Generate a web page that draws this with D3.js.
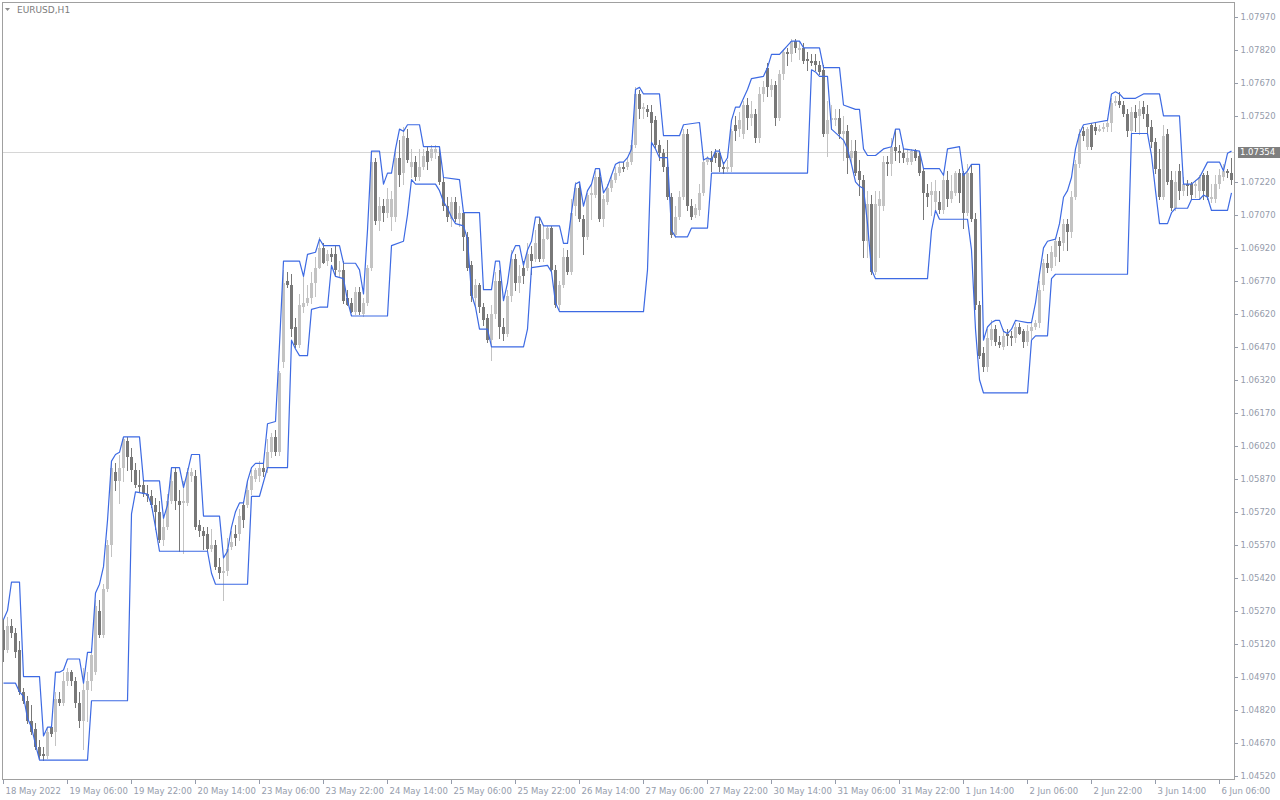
<!DOCTYPE html>
<html><head><meta charset="utf-8">
<script src="https://cdn.jsdelivr.net/npm/d3@7/dist/d3.min.js"></script>
<style>
html,body{margin:0;padding:0;background:#fff;}
svg{display:block;}
text{font-family:"DejaVu Sans",Verdana,sans-serif;}
</style></head><body>
<svg id="chart" width="1280" height="800"></svg>
<script>
const chartTitle = "EURUSD,H1";
const currentPrice = 1.07354;

const open = [1.0518,1.0509,1.0520,1.0517,1.0509,1.0490,1.0486,1.0477,1.0473,1.0465,
1.0462,1.0461,1.0474,1.0472,1.0487,1.0485,1.0495,1.0499,1.0495,1.0485,
1.0477,1.0491,1.0495,1.0499,1.0527,1.0516,1.0537,1.0557,1.0590,1.0586,
1.0592,1.0604,1.0597,1.0591,1.0584,1.0584,1.0580,1.0579,1.0575,1.0572,
1.0559,1.0565,1.0577,1.0590,1.0577,1.0576,1.0576,1.0588,1.0588,1.0566,
1.0563,1.0562,1.0555,1.0557,1.0547,1.0544,1.0545,1.0556,1.0562,1.0562,
1.0575,1.0575,1.0582,1.0587,1.0588,1.0592,1.0592,1.0599,1.0606,1.0599,
1.0640,1.0677,1.0675,1.0656,1.0648,1.0665,1.0667,1.0669,1.0676,1.0683,
1.0692,1.0686,1.0689,1.0689,1.0681,1.0682,1.0669,1.0667,1.0663,1.0672,
1.0662,1.0667,1.0683,1.0731,1.0704,1.0711,1.0708,1.0706,1.0706,1.0733,
1.0726,1.0742,1.0729,1.0731,1.0724,1.0729,1.0736,1.0733,1.0735,1.0734,
1.0722,1.0711,1.0705,1.0713,1.0705,1.0708,1.0697,1.0684,1.0669,1.0675,
1.0665,1.0660,1.0650,1.0662,1.0677,1.0656,1.0653,1.0670,1.0687,1.0676,
1.0683,1.0683,1.0689,1.0687,1.0703,1.0687,1.0696,1.0701,1.0682,1.0666,
1.0675,1.0688,1.0681,1.0711,1.0719,1.0705,1.0697,1.0716,1.0716,1.0724,
1.0705,1.0713,1.0719,1.0723,1.0726,1.0729,1.0729,1.0731,1.0739,1.0762,
1.0755,1.0755,1.0754,1.0750,1.0739,1.0735,1.0729,1.0715,1.0698,1.0706,
1.0715,1.0744,1.0711,1.0707,1.0709,1.0717,1.0731,1.0733,1.0735,1.0735,
1.0729,1.0728,1.0729,1.0748,1.0746,1.0744,1.0757,1.0751,1.0753,1.0742,
1.0762,1.0774,1.0764,1.0766,1.0751,1.0771,1.0781,1.0780,1.0786,1.0782,
1.0783,1.0778,1.0777,1.0777,1.0775,1.0773,1.0744,1.0750,1.0750,1.0751,
1.0744,1.0745,1.0733,1.0736,1.0727,1.0723,1.0695,1.0712,1.0681,1.0711,
1.0711,1.0731,1.0730,1.0738,1.0736,1.0735,1.0731,1.0731,1.0736,1.0734,
1.0727,1.0717,1.0716,1.0713,1.0713,1.0709,1.0723,1.0714,1.0717,1.0726,
1.0726,1.0708,1.0726,1.0705,1.0666,1.0644,1.0638,1.0650,1.0655,1.0649,
1.0647,1.0653,1.0652,1.0651,1.0656,1.0654,1.0649,1.0654,1.0656,1.0658,
1.0675,1.0685,1.0683,1.0688,1.0695,1.0694,1.0703,1.0699,1.0715,1.0730,
1.0745,1.0738,1.0748,1.0747,1.0745,1.0746,1.0747,1.0749,1.0758,1.0759,
1.0757,1.0753,1.0745,1.0754,1.0752,1.0756,1.0753,1.0747,1.0740,1.0728,
1.0715,1.0744,1.0723,1.0710,1.0727,1.0718,1.0721,1.0721,1.0720,1.0718,
1.0725,1.0725,1.0714,1.0714,1.0721,1.0724,1.0727,1.0726];

const high = [1.0523,1.0524,1.0523,1.0519,1.0513,1.0492,1.0488,1.0484,1.0476,1.0468,
1.0465,1.0474,1.0475,1.0490,1.0490,1.0499,1.0501,1.0500,1.0497,1.0490,
1.0501,1.0499,1.0510,1.0532,1.0532,1.0539,1.0559,1.0595,1.0594,1.0598,
1.0606,1.0606,1.0601,1.0594,1.0591,1.0587,1.0584,1.0582,1.0578,1.0577,
1.0570,1.0580,1.0591,1.0592,1.0582,1.0586,1.0592,1.0592,1.0591,1.0568,
1.0565,1.0565,1.0564,1.0559,1.0551,1.0551,1.0560,1.0563,1.0566,1.0573,
1.0577,1.0586,1.0591,1.0592,1.0595,1.0594,1.0605,1.0608,1.0609,1.0636,
1.0682,1.0681,1.0680,1.0660,1.0671,1.0679,1.0675,1.0681,1.0688,1.0697,
1.0694,1.0691,1.0692,1.0693,1.0686,1.0686,1.0673,1.0669,1.0674,1.0674,
1.0669,1.0684,1.0735,1.0733,1.0715,1.0714,1.0719,1.0718,1.0737,1.0741,
1.0747,1.0746,1.0737,1.0734,1.0737,1.0737,1.0738,1.0739,1.0739,1.0737,
1.0724,1.0715,1.0715,1.0715,1.0711,1.0709,1.0699,1.0686,1.0678,1.0676,
1.0667,1.0662,1.0666,1.0681,1.0682,1.0660,1.0673,1.0691,1.0689,1.0684,
1.0686,1.0694,1.0693,1.0700,1.0706,1.0702,1.0702,1.0702,1.0684,1.0677,
1.0692,1.0691,1.0714,1.0722,1.0721,1.0707,1.0717,1.0721,1.0727,1.0728,
1.0716,1.0721,1.0725,1.0729,1.0731,1.0731,1.0733,1.0741,1.0765,1.0764,
1.0758,1.0757,1.0757,1.0752,1.0741,1.0737,1.0741,1.0717,1.0711,1.0718,
1.0746,1.0746,1.0714,1.0712,1.0721,1.0734,1.0734,1.0736,1.0737,1.0737,
1.0731,1.0732,1.0746,1.0752,1.0754,1.0759,1.0760,1.0759,1.0755,1.0765,
1.0768,1.0776,1.0769,1.0768,1.0773,1.0782,1.0783,1.0787,1.0787,1.0786,
1.0785,1.0781,1.0780,1.0780,1.0777,1.0775,1.0759,1.0757,1.0755,1.0755,
1.0752,1.0748,1.0741,1.0741,1.0732,1.0725,1.0718,1.0716,1.0718,1.0718,
1.0734,1.0734,1.0742,1.0746,1.0739,1.0737,1.0737,1.0737,1.0737,1.0736,
1.0728,1.0721,1.0722,1.0723,1.0718,1.0725,1.0727,1.0725,1.0727,1.0728,
1.0727,1.0730,1.0730,1.0708,1.0668,1.0647,1.0655,1.0659,1.0657,1.0652,
1.0655,1.0655,1.0654,1.0658,1.0658,1.0655,1.0657,1.0658,1.0659,1.0677,
1.0687,1.0689,1.0693,1.0697,1.0697,1.0705,1.0705,1.0718,1.0732,1.0746,
1.0747,1.0747,1.0749,1.0749,1.0748,1.0749,1.0751,1.0760,1.0761,1.0763,
1.0759,1.0755,1.0756,1.0757,1.0759,1.0759,1.0757,1.0750,1.0742,1.0737,
1.0748,1.0746,1.0727,1.0727,1.0730,1.0724,1.0723,1.0722,1.0723,1.0725,
1.0726,1.0727,1.0721,1.0725,1.0728,1.0730,1.0728,1.0733];

const low = [1.0504,1.0508,1.0515,1.0506,1.0489,1.0485,1.0476,1.0471,1.0464,1.0460,
1.0459,1.0460,1.0470,1.0466,1.0484,1.0484,1.0493,1.0493,1.0483,1.0474,
1.0464,1.0477,1.0491,1.0498,1.0515,1.0515,1.0536,1.0552,1.0582,1.0576,
1.0586,1.0591,1.0586,1.0583,1.0581,1.0579,1.0577,1.0574,1.0564,1.0558,
1.0557,1.0564,1.0576,1.0573,1.0554,1.0553,1.0575,1.0586,1.0564,1.0561,
1.0555,1.0554,1.0554,1.0546,1.0542,1.0532,1.0543,1.0555,1.0557,1.0559,
1.0565,1.0574,1.0580,1.0586,1.0586,1.0588,1.0590,1.0597,1.0598,1.0598,
1.0638,1.0674,1.0652,1.0647,1.0647,1.0663,1.0666,1.0667,1.0670,1.0683,
1.0685,1.0684,1.0686,1.0679,1.0679,1.0667,1.0666,1.0663,1.0662,1.0662,
1.0661,1.0666,1.0682,1.0703,1.0700,1.0704,1.0706,1.0700,1.0704,1.0720,
1.0721,1.0731,1.0724,1.0723,1.0723,1.0728,1.0728,1.0732,1.0733,1.0721,
1.0709,1.0704,1.0702,1.0704,1.0702,1.0691,1.0682,1.0668,1.0666,1.0663,
1.0657,1.0649,1.0641,1.0660,1.0651,1.0650,1.0652,1.0668,1.0673,1.0672,
1.0676,1.0682,1.0680,1.0686,1.0686,1.0686,1.0696,1.0681,1.0665,1.0664,
1.0674,1.0680,1.0680,1.0707,1.0704,1.0689,1.0696,1.0705,1.0715,1.0704,
1.0702,1.0712,1.0718,1.0722,1.0725,1.0727,1.0728,1.0730,1.0738,1.0751,
1.0751,1.0752,1.0739,1.0738,1.0732,1.0727,1.0714,1.0697,1.0697,1.0705,
1.0714,1.0709,1.0705,1.0706,1.0707,1.0716,1.0730,1.0727,1.0731,1.0727,
1.0726,1.0727,1.0727,1.0741,1.0743,1.0742,1.0746,1.0748,1.0740,1.0740,
1.0759,1.0761,1.0761,1.0748,1.0750,1.0769,1.0775,1.0777,1.0781,1.0778,
1.0776,1.0773,1.0775,1.0773,1.0771,1.0743,1.0734,1.0746,1.0748,1.0742,
1.0732,1.0726,1.0731,1.0725,1.0716,1.0688,1.0688,1.0680,1.0680,1.0688,
1.0709,1.0725,1.0725,1.0732,1.0731,1.0731,1.0730,1.0730,1.0732,1.0725,
1.0705,1.0711,1.0707,1.0709,1.0708,1.0708,1.0711,1.0713,1.0716,1.0713,
1.0701,1.0707,1.0704,1.0664,1.0642,1.0636,1.0636,1.0648,1.0648,1.0647,
1.0646,1.0648,1.0648,1.0649,1.0653,1.0647,1.0648,1.0651,1.0655,1.0656,
1.0673,1.0681,1.0682,1.0684,1.0686,1.0691,1.0691,1.0697,1.0714,1.0729,
1.0741,1.0737,1.0737,1.0744,1.0745,1.0745,1.0745,1.0745,1.0757,1.0756,
1.0752,1.0743,1.0744,1.0745,1.0744,1.0751,1.0744,1.0738,1.0726,1.0714,
1.0714,1.0721,1.0709,1.0709,1.0714,1.0716,1.0716,1.0714,1.0715,1.0714,
1.0714,1.0714,1.0713,1.0713,1.0719,1.0723,1.0724,1.0721];

const close = [1.0509,1.0520,1.0517,1.0508,1.0490,1.0486,1.0477,1.0472,1.0465,1.0461,
1.0461,1.0472,1.0471,1.0487,1.0485,1.0495,1.0499,1.0495,1.0485,1.0477,
1.0491,1.0495,1.0507,1.0529,1.0516,1.0537,1.0557,1.0592,1.0586,1.0592,
1.0605,1.0597,1.0591,1.0584,1.0583,1.0580,1.0579,1.0575,1.0572,1.0559,
1.0565,1.0577,1.0586,1.0577,1.0575,1.0577,1.0590,1.0590,1.0565,1.0563,
1.0561,1.0555,1.0557,1.0547,1.0544,1.0545,1.0555,1.0558,1.0560,1.0570,
1.0568,1.0582,1.0588,1.0591,1.0592,1.0590,1.0599,1.0606,1.0599,1.0635,
1.0676,1.0675,1.0655,1.0648,1.0666,1.0667,1.0669,1.0676,1.0683,1.0692,
1.0685,1.0689,1.0688,1.0682,1.0682,1.0668,1.0666,1.0663,1.0672,1.0663,
1.0667,1.0683,1.0731,1.0704,1.0711,1.0708,1.0714,1.0714,1.0733,1.0725,
1.0743,1.0732,1.0731,1.0724,1.0729,1.0734,1.0731,1.0737,1.0737,1.0722,
1.0711,1.0706,1.0713,1.0705,1.0708,1.0697,1.0683,1.0670,1.0675,1.0665,
1.0659,1.0650,1.0662,1.0677,1.0656,1.0653,1.0670,1.0687,1.0676,1.0679,
1.0679,1.0689,1.0686,1.0694,1.0687,1.0696,1.0701,1.0682,1.0666,1.0675,
1.0688,1.0681,1.0708,1.0719,1.0705,1.0697,1.0716,1.0717,1.0724,1.0705,
1.0714,1.0719,1.0723,1.0726,1.0729,1.0728,1.0731,1.0739,1.0762,1.0755,
1.0756,1.0754,1.0749,1.0739,1.0735,1.0729,1.0715,1.0698,1.0706,1.0715,
1.0744,1.0711,1.0706,1.0710,1.0717,1.0731,1.0733,1.0731,1.0733,1.0729,
1.0728,1.0729,1.0745,1.0745,1.0750,1.0757,1.0751,1.0753,1.0742,1.0762,
1.0765,1.0765,1.0766,1.0751,1.0771,1.0781,1.0780,1.0786,1.0783,1.0783,
1.0777,1.0777,1.0776,1.0775,1.0772,1.0744,1.0750,1.0751,1.0751,1.0744,
1.0745,1.0733,1.0736,1.0726,1.0723,1.0695,1.0712,1.0681,1.0712,1.0714,
1.0731,1.0730,1.0738,1.0736,1.0735,1.0733,1.0733,1.0736,1.0733,1.0726,
1.0717,1.0715,1.0718,1.0718,1.0709,1.0723,1.0714,1.0718,1.0726,1.0717,
1.0708,1.0726,1.0705,1.0666,1.0643,1.0638,1.0651,1.0655,1.0649,1.0648,
1.0652,1.0652,1.0651,1.0656,1.0653,1.0649,1.0654,1.0656,1.0658,1.0673,
1.0685,1.0683,1.0690,1.0695,1.0693,1.0703,1.0699,1.0715,1.0730,1.0744,
1.0743,1.0746,1.0738,1.0745,1.0746,1.0747,1.0749,1.0758,1.0759,1.0757,
1.0753,1.0745,1.0754,1.0751,1.0755,1.0753,1.0747,1.0740,1.0728,1.0715,
1.0743,1.0722,1.0710,1.0722,1.0718,1.0721,1.0720,1.0716,1.0721,1.0724,
1.0718,1.0715,1.0715,1.0721,1.0725,1.0727,1.0726,1.0723];

// channel lines: [bar index, price] vertices
const upperBand = [[0,1.0523],[1,1.0527],[2,1.0540],[4,1.0540],[5,1.0497],[9,1.0497],[10,1.0470],[11,1.0474],[12,1.0474],
[13,1.0499],[14,1.0499],[15,1.0500],[16,1.0505],[19,1.0505],[20,1.0494],[21,1.0508],[22,1.0508],[23,1.0535],[24,1.0539],
[25,1.0547],[26,1.0568],[27,1.0595],[28,1.0598],[29,1.0599],[30,1.0606],[34,1.0606],[35,1.0586],[39,1.0586],[40,1.0569],
[41,1.0575],[42,1.0592],[44,1.0592],[45,1.0583],[46,1.0590],[47,1.0598],[49,1.0598],[50,1.0570],[54,1.0570],[55,1.0551],
[56,1.0554],[57,1.0565],[58,1.0572],[59,1.0576],[60,1.0576],[61,1.0586],[62,1.0592],[63,1.0594],[65,1.0594],[66,1.0612],
[68,1.0613],[69,1.0648],[70,1.0686],[74,1.0686],[75,1.0679],[76,1.0689],[78,1.0690],[79,1.0696],[80,1.0693],[84,1.0693],
[85,1.0685],[88,1.0685],[89,1.0682],[90,1.0671],[91,1.0700],[92,1.0736],[94,1.0736],[95,1.0721],[96,1.0726],[97,1.0726],
[98,1.0737],[99,1.0746],[100,1.0745],[101,1.0748],[104,1.0748],[105,1.0738],[109,1.0738],[110,1.0724],[114,1.0723],[115,1.0708],
[119,1.0708],[120,1.0673],[122,1.0673],[123,1.0686],[124,1.0686],[125,1.0668],[126,1.0676],[127,1.0689],[128,1.0693],[129,1.0693],
[130,1.0684],[131,1.0691],[132,1.0695],[133,1.0706],[134,1.0706],[135,1.0702],[139,1.0702],[140,1.0694],[141,1.0694],[142,1.0708],
[143,1.0721],[144,1.0722],[145,1.0711],[146,1.0718],[147,1.0721],[148,1.0728],[149,1.0728],[150,1.0717],[151,1.0720],[152,1.0725],
[153,1.0730],[154,1.0731],[155,1.0731],[156,1.0733],[157,1.0737],[158,1.0764],[159,1.0765],[160,1.0762],[164,1.0762],[165,1.0743],
[169,1.0743],[170,1.0748],[174,1.0749],[175,1.0732],[176,1.0733],[177,1.0732],[178,1.0736],[179,1.0736],[180,1.0730],[181,1.0733],
[182,1.0750],[183,1.0756],[184,1.0756],[185,1.0760],[186,1.0764],[187,1.0769],[190,1.0770],[191,1.0774],[192,1.0780],[194,1.0780],
[195,1.0782],[196,1.0784],[197,1.0786],[199,1.0786],[200,1.0783],[204,1.0783],[205,1.0774],[209,1.0774],[210,1.0757],[213,1.0755],
[214,1.0755],[215,1.0737],[216,1.0734],[218,1.0734],[220,1.0737],[222,1.0738],[223,1.0746],[224,1.0746],[225,1.0737],[229,1.0736],
[230,1.0728],[234,1.0728],[235,1.0725],[236,1.0737],[239,1.0738],[240,1.0725],[241,1.0727],[242,1.0730],[244,1.0730],[245,1.0650],
[246,1.0656],[247,1.0658],[248,1.0659],[249,1.0659],[250,1.0654],[251,1.0653],[252,1.0655],[253,1.0659],[256,1.0658],[257,1.0658],
[258,1.0667],[259,1.0680],[260,1.0692],[261,1.0695],[263,1.0696],[264,1.0703],[265,1.0715],[266,1.0718],[267,1.0724],[268,1.0737],
[269,1.0744],[270,1.0748],[273,1.0749],[276,1.0750],[277,1.0762],[278,1.0763],[279,1.0762],[280,1.0760],[283,1.0760],[285,1.0762],
[289,1.0762],[290,1.0752],[294,1.0752],[295,1.0721],[297,1.0721],[299,1.0724],[301,1.0731],[304,1.0731],[305,1.0727],[306,1.0735],[307,1.0736]];

const lowerBand = [[0,1.0494],[3,1.0494],[4,1.0490],[5,1.0488],[6,1.0478],[7,1.0474],[8,1.0466],[9,1.0459],[21,1.0459],[22,1.0486],
[31,1.0486],[32,1.0571],[33,1.0581],[36,1.0580],[37,1.0575],[38,1.0565],[39,1.0554],[51,1.0554],[52,1.0544],[53,1.0539],
[61,1.0539],[62,1.0579],[64,1.0579],[66,1.0592],[71,1.0592],[72,1.0650],[73,1.0646],[74,1.0643],[76,1.0643],[77,1.0664],
[79,1.0665],[81,1.0665],[82,1.0684],[83,1.0679],[85,1.0678],[86,1.0668],[87,1.0661],[96,1.0661],[97,1.0693],[100,1.0695],
[101,1.0707],[102,1.0723],[103,1.0721],[108,1.0721],[109,1.0718],[110,1.0713],[111,1.0710],[112,1.0706],[113,1.0703],[115,1.0702],
[116,1.0696],[117,1.0671],[118,1.0665],[119,1.0655],[121,1.0655],[122,1.0647],[130,1.0647],[131,1.0655],[132,1.0683],[136,1.0684],
[137,1.0681],[138,1.0667],[139,1.0663],[160,1.0663],[161,1.0682],[162,1.0740],[163,1.0737],[164,1.0733],[166,1.0733],[167,1.0700],
[168,1.0697],[171,1.0697],[172,1.0701],[176,1.0701],[177,1.0726],[201,1.0726],[202,1.0773],[203,1.0772],[204,1.0770],[206,1.0770],
[207,1.0746],[210,1.0741],[211,1.0737],[212,1.0730],[213,1.0722],[214,1.0720],[215,1.0719],[216,1.0703],[217,1.0682],[218,1.0678],
[231,1.0678],[232,1.0700],[233,1.0709],[234,1.0705],[241,1.0705],[242,1.0691],[243,1.0655],[244,1.0632],[245,1.0626],[256,1.0626],
[257,1.0650],[258,1.0652],[261,1.0652],[262,1.0678],[263,1.0680],[281,1.0680],[282,1.0744],[286,1.0744],[287,1.0734],[288,1.0718],
[289,1.0703],[291,1.0703],[292,1.0708],[293,1.0710],[296,1.0710],[297,1.0714],[299,1.0714],[300,1.0716],[301,1.0715],[302,1.0709],
[306,1.0709],[307,1.0717]];

// price scale labels (the 1.07370 level is hidden behind the current-price box in the reference)
const priceTicks = [1.0452,1.0467,1.0482,1.0497,1.0512,1.0527,1.0542,1.0557,1.0572,1.0587,1.0602,1.0617,
1.0632,1.0647,1.0662,1.0677,1.0692,1.0707,1.0722,1.0752,1.0767,1.0782,1.0797];

const timeTickBars = [0,16,32,48,64,80,96,112,128,144,160,176,192,208,224,240,256,272,288,304];
const timeTickLabels = ["18 May 2022","19 May 06:00","19 May 22:00","20 May 14:00","23 May 06:00","23 May 22:00",
"24 May 14:00","25 May 06:00","25 May 22:00","26 May 14:00","27 May 06:00","27 May 22:00","30 May 14:00",
"31 May 06:00","31 May 22:00","1 Jun 14:00","2 Jun 06:00","2 Jun 22:00","3 Jun 14:00","6 Jun 06:00"];

// ---------- drawing ----------
const svg = d3.select("#chart");
const plotL = 2, plotR = 1234, plotT = 2, plotB = 779;
const AXIS_COLOR = "#959cab", FRAME = "#a0a0a0";
const BULL = "#c3c3c3", BEAR = "#787878", BAND = "#3d6ae3";

svg.append("rect").attr("width",1280).attr("height",800).attr("fill","#fff");

const x = d3.scaleLinear().domain([0, open.length - 1]).range([3.5, 3.5 + 4 * (open.length - 1)]);
const y = d3.scaleLinear().domain([1.0452, 1.0797]).range([775.5, 17]);

const bars = open.map((o,i) => ({i, o, h: high[i], l: low[i], c: close[i]}));

// current price line
const yCur = Math.round(y(currentPrice)) + 0.5;
svg.append("line").attr("x1", plotL).attr("x2", plotR).attr("y1", yCur).attr("y2", yCur)
  .attr("stroke", "#d6d6d6").attr("stroke-width", 1);

// candles
const gC = svg.append("g").attr("shape-rendering","crispEdges");
gC.selectAll("line.wick").data(bars).join("line").attr("class","wick")
  .attr("x1", d => Math.floor(x(d.i)) + 0.5).attr("x2", d => Math.floor(x(d.i)) + 0.5)
  .attr("y1", d => Math.round(y(d.h))).attr("y2", d => Math.round(y(d.l)) + 1)
  .attr("stroke", d => d.c >= d.o ? BULL : BEAR).attr("stroke-width", 1);
gC.selectAll("rect.body").data(bars).join("rect").attr("class","body")
  .attr("x", d => Math.floor(x(d.i)) - 1).attr("width", 3)
  .attr("y", d => Math.round(y(Math.max(d.o, d.c))))
  .attr("height", d => Math.max(1, Math.round(y(Math.min(d.o, d.c))) - Math.round(y(Math.max(d.o, d.c)))))
  .attr("fill", d => d.c >= d.o ? BULL : BEAR);

// channel lines
const line = d3.line().x(d => x(d[0])).y(d => y(d[1]));
[upperBand, lowerBand].forEach(b => {
  svg.append("path").attr("d", line(b)).attr("fill","none")
    .attr("stroke", BAND).attr("stroke-width", 1.2).attr("stroke-linejoin","round");
});

// frame
svg.append("rect").attr("x", plotL + 0.5).attr("y", plotT + 0.5)
  .attr("width", plotR - plotL).attr("height", plotB - plotT)
  .attr("fill","none").attr("stroke", FRAME).attr("shape-rendering","crispEdges");

// right price axis
const yAxis = d3.axisRight(y).tickValues(priceTicks).tickSize(3).tickPadding(3).tickFormat(d3.format(".5f"));
const gy = svg.append("g").attr("transform", `translate(${plotR + 0.5},0)`).call(yAxis);
gy.select(".domain").remove();
gy.selectAll(".tick line").attr("stroke", AXIS_COLOR).attr("shape-rendering","crispEdges");
gy.selectAll(".tick text").attr("fill", AXIS_COLOR).attr("font-size", "8.5px")
  .attr("font-family", "'DejaVu Sans',sans-serif");

// bottom time axis
const xAxis = d3.axisBottom(x).tickValues(timeTickBars).tickSize(4).tickPadding(4)
  .tickFormat((d,k) => timeTickLabels[k]);
const gx = svg.append("g").attr("transform", `translate(-0.5,${plotB + 0.5})`).call(xAxis);
gx.select(".domain").remove();
gx.selectAll(".tick line").attr("stroke", AXIS_COLOR).attr("shape-rendering","crispEdges");
gx.selectAll(".tick text").attr("fill", AXIS_COLOR).attr("font-size", "8.5px")
  .attr("text-anchor","start").attr("x", 2)
  .attr("font-family", "'DejaVu Sans',sans-serif");

// current price box
const boxY = Math.round(y(currentPrice));
svg.append("rect").attr("x", 1238).attr("y", boxY - 5).attr("width", 42).attr("height", 11)
  .attr("fill", "#7f7f7f");
svg.append("text").attr("x", 1240).attr("y", boxY + 0.5).attr("dy","0.35em")
  .attr("fill","#ffffff").attr("font-size","8.5px").text(d3.format(".5f")(currentPrice));

// title
svg.append("path").attr("d","M5,8 L10,8 L7.5,11 Z").attr("fill","#8c8c8c");
svg.append("text").attr("x", 17).attr("y", 10).attr("dy","0.35em")
  .attr("fill","#7c7c7c").attr("font-size","9px").text(chartTitle);
</script>
</body></html>
